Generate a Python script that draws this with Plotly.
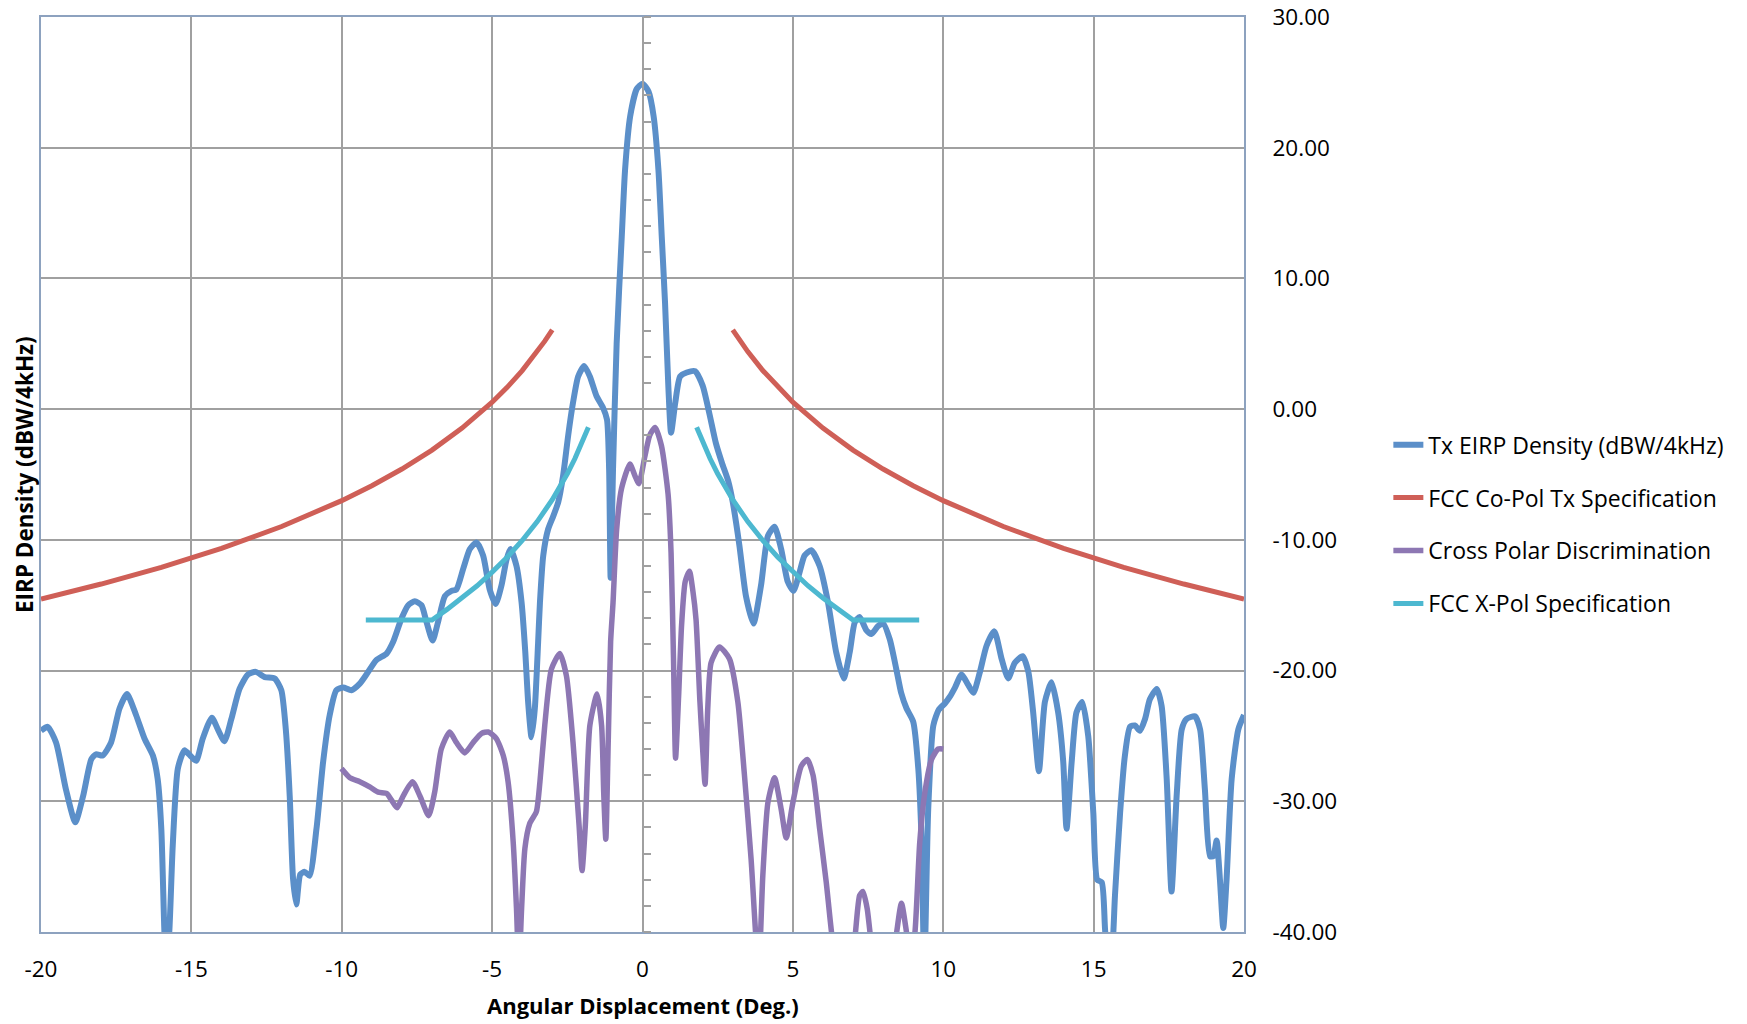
import plotly.graph_objects as go

# ---------------- data ----------------
blue_x = [-20.0, -19.78, -19.5, -19.17, -18.86, -18.6, -18.33, -18.17, -17.95, -17.67,
          -17.39, -17.14, -16.84, -16.56, -16.28, -16.12, -16.0, -15.9, -15.84, -15.73,
          -15.62, -15.45, -15.23, -15.0, -14.84, -14.62, -14.32, -14.12, -13.9, -13.67,
          -13.4, -13.12, -12.86, -12.56, -12.23, -12.01, -11.86, -11.73, -11.62, -11.51,
          -11.38, -11.23, -11.07, -10.84, -10.62, -10.4, -10.18, -9.95, -9.68, -9.4,
          -9.18, -8.85, -8.51, -8.29, -8.01, -7.79, -7.57, -7.35, -7.18, -6.98,
          -6.8, -6.57, -6.35, -6.19, -5.96, -5.74, -5.52, -5.3, -5.08, -4.88,
          -4.69, -4.52, -4.39, -4.19, -4.02, -3.9, -3.8, -3.69, -3.58, -3.47,
          -3.41, -3.3, -3.14, -2.97, -2.8, -2.64, -2.47, -2.31, -2.14, -1.94,
          -1.75, -1.53, -1.31, -1.18, -1.11, -1.06, -0.98, -0.86, -0.69, -0.58,
          -0.41, -0.19, 0.0, 0.2, 0.37, 0.53, 0.64, 0.75, 0.86, 0.95,
          1.09, 1.25, 1.47, 1.75, 2.0, 2.22, 2.44, 2.64, 2.85, 3.0,
          3.22, 3.44, 3.69, 3.94, 4.17, 4.39, 4.61, 4.83, 5.02, 5.22,
          5.39, 5.61, 5.89, 6.17, 6.44, 6.69, 6.89, 7.06, 7.22, 7.44,
          7.61, 7.83, 8.0, 8.22, 8.44, 8.6, 8.78, 9.0, 9.17, 9.28,
          9.37, 9.5, 9.67, 9.85, 10.06, 10.22, 10.39, 10.61, 10.83, 11.0,
          11.22, 11.44, 11.7, 11.94, 12.16, 12.38, 12.64, 12.83, 12.99, 13.18,
          13.38, 13.6, 13.82, 13.99, 14.1, 14.27, 14.43, 14.62, 14.82, 14.99,
          15.12, 15.27, 15.38, 15.5, 15.63, 15.71, 15.88, 16.04, 16.21, 16.37,
          16.54, 16.71, 16.87, 17.1, 17.26, 17.43, 17.59, 17.76, 17.93, 18.09,
          18.37, 18.54, 18.7, 18.87, 18.98, 19.09, 19.2, 19.31, 19.42, 19.59,
          19.81, 20.0]
blue_y = [-24.6, -24.3, -25.5, -29.1, -31.6, -29.6, -26.8, -26.4, -26.5, -25.5,
          -22.9, -21.8, -23.4, -25.2, -26.5, -28.3, -32.1, -39.8, -43.0, -39.8,
          -33.4, -27.5, -26.1, -26.6, -26.9, -25.2, -23.6, -24.5, -25.4, -23.7,
          -21.4, -20.3, -20.1, -20.5, -20.6, -21.5, -24.5, -29.6, -35.9, -37.9,
          -35.6, -35.4, -35.7, -32.1, -27.0, -23.4, -21.5, -21.3, -21.5, -21.0,
          -20.3, -19.2, -18.7, -17.8, -16.0, -15.0, -14.7, -15.0, -16.3, -17.7,
          -16.3, -14.3, -13.9, -13.8, -12.2, -10.7, -10.2, -11.2, -13.8, -14.9,
          -13.5, -11.5, -10.7, -12.0, -14.8, -18.5, -22.5, -25.1, -22.9, -17.8,
          -14.8, -11.2, -9.2, -8.2, -7.1, -5.1, -2.0, 0.5, 2.5, 3.3,
          2.5, 1.0, 0.1, -0.8, -4.6, -12.9, -4.6, 5.0, 13.2, 18.3,
          22.4, 24.5, 24.9, 24.3, 22.4, 18.3, 13.2, 8.1, 1.7, -1.8,
          0.5, 2.5, 2.8, 2.9, 1.8, -0.3, -2.6, -4.1, -5.5, -7.1,
          -10.4, -14.3, -16.4, -13.5, -9.7, -9.0, -10.7, -13.2, -13.9, -12.5,
          -11.2, -10.8, -12.0, -14.8, -18.6, -20.6, -18.6, -16.3, -15.9, -16.9,
          -17.2, -16.6, -16.4, -17.6, -19.9, -21.7, -22.9, -23.9, -27.5, -33.1,
          -43.0, -30.6, -24.2, -23.0, -22.5, -22.0, -21.3, -20.3, -21.1, -21.7,
          -20.1, -18.1, -17.0, -19.1, -20.6, -19.4, -18.9, -20.1, -23.2, -27.7,
          -22.4, -20.9, -23.2, -27.0, -32.1, -27.0, -23.2, -22.4, -25.0, -30.9,
          -36.0, -36.2, -39.8, -43.0, -41.0, -37.2, -30.9, -26.5, -24.3, -24.2,
          -24.6, -23.7, -22.2, -21.4, -22.7, -28.3, -36.9, -29.6, -24.5, -23.7,
          -23.5, -24.5, -29.1, -34.2, -34.2, -33.0, -36.0, -39.7, -36.0, -28.3,
          -24.5, -23.4]

purple_x = [-10.01, -9.73, -9.4, -9.07, -8.79, -8.51, -8.35, -8.16, -7.96, -7.65,
            -7.4, -7.11, -6.91, -6.69, -6.41, -6.19, -5.91, -5.63, -5.35, -5.13,
            -4.86, -4.63, -4.47, -4.3, -4.19, -4.11, -4.02, -3.91, -3.75, -3.53,
            -3.41, -3.25, -3.03, -2.75, -2.53, -2.31, -2.11, -2.01, -1.9, -1.75,
            -1.51, -1.36, -1.29, -1.22, -1.14, -1.06, -0.98, -0.86, -0.7, -0.42,
            -0.25, -0.12, 0.08, 0.24, 0.42, 0.63, 0.85, 0.95, 1.03, 1.1,
            1.2, 1.3, 1.42, 1.56, 1.68, 1.78, 1.91, 2.0, 2.08, 2.17,
            2.28, 2.56, 2.89, 3.17, 3.39, 3.61, 3.86, 4.0, 4.17, 4.39,
            4.61, 4.78, 5.0, 5.28, 5.48, 5.67, 5.89, 6.11, 6.31, 6.7,
            7.06, 7.22, 7.33, 7.47, 7.59, 8.0, 8.42, 8.61, 8.81, 8.93,
            9.06, 9.22, 9.39, 9.61, 9.83, 10.0]
purple_y = [-27.5, -28.2, -28.5, -28.9, -29.3, -29.4, -29.9, -30.5, -29.6, -28.5,
            -29.6, -31.1, -29.3, -26.0, -24.7, -25.5, -26.3, -25.5, -24.8, -24.7,
            -25.2, -26.5, -28.5, -33.1, -38.2, -43.0, -38.2, -33.6, -31.7, -30.8,
            -28.5, -24.2, -19.9, -18.7, -20.4, -25.5, -31.8, -35.3, -31.8, -24.2,
            -21.8, -24.2, -29.3, -32.9, -25.5, -17.8, -14.8, -9.2, -6.1, -4.2,
            -5.1, -5.7, -3.6, -2.0, -1.4, -2.8, -6.5, -11.0, -19.0, -26.7,
            -22.0, -16.5, -13.2, -12.4, -14.0, -16.1, -22.4, -26.0, -28.7, -22.9,
            -19.4, -18.2, -19.1, -22.4, -28.0, -34.4, -43.0, -35.7, -30.1, -28.2,
            -30.6, -32.8, -30.1, -27.3, -26.8, -28.0, -32.1, -36.2, -40.5, -46.0,
            -40.5, -37.2, -36.9, -38.2, -40.5, -46.0, -40.5, -37.8, -40.5, -42.0,
            -40.0, -33.1, -29.3, -26.8, -26.0, -26.0]

# FCC co-pol spec, one side (|angle|, value); mirrored for the other side
copol_theta = [3, 3.25, 3.5, 4, 4.5, 5, 6, 7, 8, 9, 10, 12, 14, 16, 18, 20]
copol_vals = [6.07, 5.20, 4.40, 2.95, 1.67, 0.53, -1.45, -3.13, -4.58, -5.86,
              -7.00, -8.98, -10.65, -12.10, -13.38, -14.53]

# FCC x-pol spec, one side
xpol_theta = [1.8, 2.0, 2.25, 2.5, 2.75, 3, 3.5, 4, 4.5, 5, 5.5, 6, 6.5, 7, 9.2]
xpol_vals = [-1.38, -2.53, -3.80, -4.95, -5.98, -6.93, -8.60, -10.05, -11.33,
             -12.47, -13.51, -14.45, -15.32, -16.13, -16.13]

x_ticks = [-20, -15, -10, -5, 0, 5, 10, 15, 20]
x_ticktext = ["-20", "-15", "-10", "-5", "0", "5", "10", "15", "20"]
y_ticks = [-40, -30, -20, -10, 0, 10, 20, 30]
y_ticktext = ["-40.00", "-30.00", "-20.00", "-10.00", "0.00", "10.00", "20.00", "30.00"]

series_names = ["Tx EIRP Density (dBW/4kHz)", "FCC Co-Pol Tx Specification",
                "Cross Polar Discrimination", "FCC X-Pol Specification"]

# ---------------- build ----------------
def mirrored(theta, vals):
    xs = [-t for t in reversed(theta)] + [None] + list(theta)
    ys = list(reversed(vals)) + [None] + list(vals)
    return xs, ys

copol_x, copol_y = mirrored(copol_theta, copol_vals)
xpol_x, xpol_y = mirrored(xpol_theta, xpol_vals)

BLUE = "#5b8fc9"
RED = "#cf5f57"
PURPLE = "#8d77b3"
CYAN = "#4db8d0"
GRID = "#a0a0a0"
BORDER = "#8da2bf"
FONT = "Open Sans"

fig = go.Figure()
fig.add_trace(go.Scatter(x=blue_x, y=blue_y, mode="lines", name=series_names[0],
                         line=dict(color=BLUE, width=6, shape="spline", smoothing=0.6),
                         legendgroup="a"))
fig.add_trace(go.Scatter(x=copol_x, y=copol_y, mode="lines", name=series_names[1],
                         line=dict(color=RED, width=5), connectgaps=False,
                         legendgroup="b"))
fig.add_trace(go.Scatter(x=purple_x, y=purple_y, mode="lines", name=series_names[2],
                         line=dict(color=PURPLE, width=5.5, shape="spline", smoothing=0.6),
                         legendgroup="c"))
fig.add_trace(go.Scatter(x=xpol_x, y=xpol_y, mode="lines", name=series_names[3],
                         line=dict(color=CYAN, width=5), connectgaps=False,
                         legendgroup="d"))
# invisible trace to anchor the centre (x=0) value axis
fig.add_trace(go.Scatter(x=[None], y=[None], yaxis="y2", showlegend=False,
                         hoverinfo="skip"))

fig.update_layout(
    width=1747, height=1024,
    margin=dict(l=41, r=503, t=17, b=92, autoexpand=False),
    paper_bgcolor="white", plot_bgcolor="white",
    font=dict(family=FONT, size=22, color="#000000"),
    showlegend=True,
    legend=dict(x=1.12, y=0.556, xanchor="left", yanchor="top",
                font=dict(family=FONT, size=23, color="#000000"),
                tracegroupgap=20, bgcolor="rgba(0,0,0,0)", itemwidth=30),
    xaxis=dict(range=[-20, 20], tickvals=x_ticks, ticktext=x_ticktext,
               showgrid=True, gridcolor=GRID, gridwidth=2,
               showline=True, linecolor=BORDER, linewidth=2, mirror=True,
               ticks="", ticklabelstandoff=16, zeroline=False,
               ticklabeloverflow="allow", automargin=False,
               tickfont=dict(family=FONT, size=22.5)),
    yaxis=dict(range=[-40, 30], tickvals=y_ticks, ticktext=y_ticktext,
               side="right", showgrid=True, gridcolor=GRID, gridwidth=2,
               showline=True, linecolor=BORDER, linewidth=2, mirror=True,
               ticks="", ticklabelstandoff=22, zeroline=False,
               ticklabeloverflow="allow", automargin=False,
               tickfont=dict(family=FONT, size=22.5)),
    yaxis2=dict(range=[-40, 30], overlaying="y", anchor="free", position=0.5,
                side="right", showgrid=False, zeroline=False, automargin=False,
                showline=True, linecolor=GRID, linewidth=2,
                showticklabels=False, ticks="outside", ticklen=7, tickwidth=2,
                tickcolor=GRID, dtick=10, tick0=0,
                minor=dict(ticks="outside", ticklen=7, tickwidth=2, tickcolor=GRID,
                           dtick=2, tick0=0)),
    annotations=[
        dict(text="<b>Angular Displacement (Deg.)</b>", xref="paper", yref="paper",
             x=0.5, y=-0.08, xanchor="center", yanchor="middle", showarrow=False,
             font=dict(family=FONT, size=22, color="#000000")),
        dict(text="<b>EIRP Density (dBW/4kHz)</b>", xref="paper", yref="paper",
             x=-0.0137, y=0.5, xanchor="center", yanchor="middle", showarrow=False,
             textangle=-90, font=dict(family=FONT, size=22.5, color="#000000")),
    ],
)

fig.write_html("out.html")
